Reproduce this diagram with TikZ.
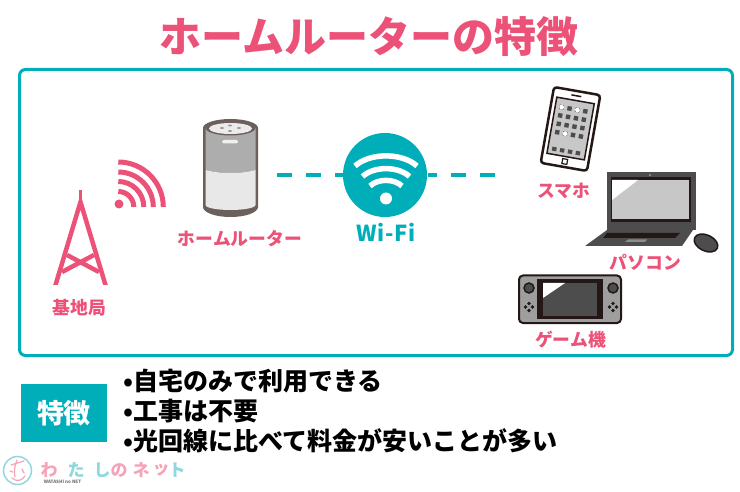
\documentclass[tikz,border=0pt]{standalone}
\usepackage{fontspec}
\setmainfont{Noto Sans CJK JP}
\usepackage{tikz}
\usetikzlibrary{shapes.geometric, positioning}
\definecolor{rosa}{HTML}{EC5178}
\definecolor{teal1}{HTML}{00AEB9}
\definecolor{ink}{HTML}{231815}
\definecolor{slate}{HTML}{4D4D4D}
\definecolor{stone}{HTML}{6B605C}
\definecolor{logopink}{HTML}{F5A3B8}
\definecolor{logoteal}{HTML}{8FD8DF}
\tikzset{
    x=1pt, y=-1pt,
    devlabel/.style={text=rosa, font=\fontsize{17.8}{18}\selectfont\bfseries, inner sep=0pt},
    wifidash/.style={teal1, line width=4.5pt},
    arcline/.style={rosa, line width=5pt},
    towerline/.style={rosa, line width=4.5pt},
    factline/.style={font=\fontsize{25}{26}\selectfont\bfseries, inner sep=0pt, anchor=west},
    whitearc/.style={white, line width=5.5pt},
    logomark/.style={logopink, line width=1.2pt, line cap=round}
}
\begin{document}
\begin{tikzpicture}
    \useasboundingbox (0,0) rectangle (740,492);

    \node[text=rosa, font=\fontsize{42}{44}\selectfont\bfseries, inner sep=0pt] (title) at (369,37) {ホームルーターの特徴};
    \draw[teal1, line width=3pt, rounded corners=6pt] (19.5,69.5) rectangle (732.5,355.5);

    % tower
    \begin{scope}
        \clip (40,185) rectangle (120,285);
        \draw[towerline] (54,290) -- (80.5,202) -- (107,290);
        \draw[towerline, line width=3pt] (80.5,190) -- (80.5,205);
        \draw[towerline] (67,255) -- (99,272);
        \draw[towerline] (94,255) -- (62,272);
    \end{scope}
    \node[devlabel] (tower) at (79.5,308) {基地局};

    % signal
    \fill[rosa] (119,204) circle (4.5);
    \foreach \r in {15.5,25.5,35,45}
        \draw[arcline] (118.3,207-\r) arc (-90:0:\r);

    % router
    \node[minimum width=55pt, minimum height=98pt, inner sep=0pt] (router) at (230.5,168) {};
    \fill[stone] (203,128) arc (180:360:27.5 and 9) -- (258,207) arc (0:180:27.5 and 10) -- cycle;
    \fill[black!32] (205.5,128) -- (255.5,128) -- (255.5,170) .. controls (240,174) and (221,174) .. (205.5,170) -- cycle;
    \fill[black!9] (205.5,170) .. controls (221,174) and (240,174) .. (255.5,170) -- (255.5,205) arc (0:180:25 and 5) -- cycle;
    \fill[stone] (230.5,128) ellipse (25 and 7.5);
    \fill[black!8] (230.5,128.5) ellipse (21.5 and 5.5);
    \foreach \a/\b in {222/128,230/125.5,239/128,230/131}
        \fill[black!40] (\a,\b) ellipse (2 and 0.9);
    \fill[black!6, rounded corners=1.5pt] (222,140) rectangle (238,143.5);
    \node[devlabel] (routerlabel) at (240,239) {ホームルーター};

    % wifi
    \node[circle, fill=teal1, minimum size=84pt, inner sep=0pt] (wifi) at (385,175) {};
    \fill[white] (386,198.5) circle (6);
    \draw[whitearc] (370,186) .. controls (378,178.5) and (394,178.5) .. (402,186);
    \draw[whitearc] (362.5,176.5) .. controls (374,166) and (398,166) .. (409.5,176.5);
    \draw[whitearc] (355,166) .. controls (370,152.5) and (402,152.5) .. (417,166);
    \node[text=teal1, font=\fontsize{22}{23}\selectfont\bfseries\addfontfeature{LetterSpace=4}, inner sep=0pt] (wifilabel) at (386,232) {Wi-Fi};

    \coordinate (devices) at (496,175);
    \draw[wifidash, dash pattern=on 15pt off 14pt, shorten <=19pt] (router.east |- wifi) -- (wifi);
    \draw[wifidash, dash pattern=on 15pt off 14pt, dash phase=6pt] (wifi) ++(43,0) coordinate (wifiright) (wifiright) -- (devices);

    % phone
    \begin{scope}[shift={(570.5,129)}, rotate=-10]
        \draw[ink, fill=white, line width=2.5pt, rounded corners=3pt] (-23.5,-38.5) rectangle (23.5,38.5);
        \draw[ink, fill=black!22, line width=1.5pt] (-19,-29) rectangle (19,28);
        \fill[ink] (-5,-34.5) rectangle (5,-33);
        \draw[ink, line width=1.2pt] (-2.5,30.5) rectangle (2.5,35.5);
        \foreach \row in {-20,-11.5,-3,5.5}
            \foreach \col in {-12.5,-4.5,3.5,11.5}
                \fill[slate] (\col-2.2,\row-2.2) rectangle (\col+2.2,\row+2.2);
        \foreach \col in {-12.5,-4.5,3.5,11.5}
            \fill[slate] (\col-2.2,20.5) rectangle (\col+2.2,24.5);
        \foreach \col/\row in {-12.5/-20,3.5/-20,-4.5/5.5}
            \fill[white] (\col,\row) circle (2.4);
    \end{scope}
    \node[devlabel] (phonelabel) at (563.5,191) {スマホ};

    % laptop
    \fill[slate] (607,172) rectangle (696,230);
    \fill[ink] (610.5,177.5) rectangle (691,222);
    \fill[black!22] (612,180) rectangle (689,219);
    \fill[white] (612,180) -- (638,180) -- (612,200) -- cycle;
    \fill[black!40] (650,175) circle (1.2);
    \fill[slate] (607,230) -- (693,230) -- (682,246) -- (585,246) -- cycle;
    \fill[ink] (607,233) -- (680,233) -- (675,238) -- (603,238) -- cycle;
    \fill[black!45] (628,239.5) -- (647,239.5) -- (645,242) -- (625,242) -- cycle;
    \draw[ink, fill=slate, line width=1.5pt, rotate around={-25:(706,243)}] (706,243) ellipse (12.5 and 8);
    \node[devlabel] (laptoplabel) at (645.5,262) {パソコン};

    % console
    \draw[ink, fill=black!38, line width=2pt, rounded corners=4pt] (519,275.5) rectangle (621,323);
    \fill[ink] (537,279) rectangle (603,319);
    \fill[slate] (543,283) rectangle (597,316);
    \fill[white] (543,283) -- (565,283) -- (543,298) -- cycle;
    \foreach \x in {529,613}{
        \draw[ink, fill=slate, line width=1.5pt] (\x,288) circle (5);
        \foreach \dx/\dy in {-3.5/0,3.5/0,0/-3.5,0/3.5}
            \fill[ink] (\x+\dx,307+\dy) circle (1.8);
    }
    \node[devlabel] (consolelabel) at (570.5,339.5) {ゲーム機};

    % features
    \node[fill=teal1, text=white, minimum width=86pt, minimum height=58pt, inner sep=0pt, font=\fontsize{27}{28}\selectfont\bfseries] (feature) at (64,413) {特徴};
    \node[factline] (fact1) at (123,381) {•自宅のみで利用できる};
    \node[factline] (fact2) at (123,411) {•工事は不要};
    \node[factline] (fact3) at (123,441) {•光回線に比べて料金が安いことが多い};

    % logo
    \draw[logoteal, line width=1.5pt] (17.5,470.5) circle (14);
    \draw[logomark] (11,465) -- (24,461);
    \draw[logomark] (17,460) .. controls (14,468) and (14,472) .. (15,477);
    \draw[logomark] (10,471) -- (13,472) (22,469) -- (24,473);
    \draw[logomark] (12,478) .. controls (16,482) and (22,481) .. (25,476);
    \foreach \c/\x/\col in {わ/49/logopink,た/76/logoteal,し/102/logoteal,の/119/logopink,ネ/141/logopink,ッ/161/logopink,ト/177/logoteal}
        \node[text=\col, font=\fontsize{17}{18}\selectfont\bfseries, inner sep=0pt] (logo\x) at (\x,470.5) {\c};
    \node[text=black!55, font=\fontsize{4.5}{5}\selectfont\bfseries, inner sep=0pt] (logotext) at (62.5,481.5) {WATASHI no NET};
\end{tikzpicture}
\end{document}
